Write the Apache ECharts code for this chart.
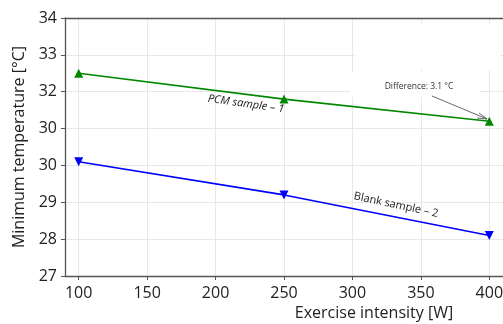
<!DOCTYPE html>
<html><head><meta charset="utf-8">
<script src="https://cdn.jsdelivr.net/npm/echarts@6/dist/echarts.min.js"></script>
<style>html,body{margin:0;padding:0;background:#fff}#c{width:503px;height:324px}</style>
</head><body><div id="c"></div>
<script>
const xValues = [100, 250, 400];
const pcmSample = [32.5, 31.8, 31.2];
const blankSample = [30.1, 29.2, 28.1];
const xTicks = [100, 150, 200, 250, 300, 350, 400];
const yTickLabels = ['27', '28', '29', '30', '30', '32', '33', '34'];
const FONT = 'Open Sans';

const chart = echarts.init(document.getElementById('c'), null, {renderer: 'canvas'});
const gridC = '#e8e8e8', axisC = '#555';
chart.setOption({
  animation: false,
  grid: {left: 65, right: 0, top: 18, bottom: 48, containLabel: false, outerBoundsMode: 'none'},
  xAxis: [{
    type: 'value', min: 90, max: 410,
    name: 'Exercise intensity [W]', nameLocation: 'middle', nameGap: 28,
    nameTextStyle: {fontFamily: FONT, fontSize: 16, color: '#222', padding: [0, 0, 0, 180]},
    axisLine: {show: true, onZero: false, lineStyle: {color: axisC, width: 1.3}},
    axisTick: {show: true, length: 4, customValues: xTicks, lineStyle: {color: axisC}},
    axisLabel: {customValues: xTicks, fontFamily: FONT, fontSize: 16, color: '#222', margin: 9},
    splitLine: {show: true, lineStyle: {color: gridC}}
  }, {
    type: 'value', position: 'top', min: 90, max: 410,
    axisLine: {show: true, onZero: false, lineStyle: {color: axisC, width: 1.3}},
    axisTick: {show: false}, axisLabel: {show: false}, splitLine: {show: false}
  }],
  yAxis: {
    type: 'value', min: 27, max: 34, interval: 1,
    name: 'Minimum temperature [°C]', nameLocation: 'middle', nameGap: 30,
    nameTextStyle: {fontFamily: FONT, fontSize: 16, color: '#222'},
    axisLine: {show: true, onZero: false, lineStyle: {color: axisC, width: 1.3}},
    axisTick: {show: true, length: 4, lineStyle: {color: axisC}},
    axisLabel: {fontFamily: FONT, fontSize: 16, color: '#222', margin: 8,
      formatter: v => yTickLabels[Math.round(v - 27)]},
    splitLine: {show: true, lineStyle: {color: gridC}}
  },
  series: [{
    type: 'line', data: xValues.map((x, i) => [x, pcmSample[i]]),
    color: '#008800', lineStyle: {width: 1.6}, symbol: 'triangle', symbolSize: 9, z: 3
  }, {
    type: 'line', data: xValues.map((x, i) => [x, blankSample[i]]),
    color: '#0000ff', lineStyle: {width: 1.6}, symbol: 'triangle', symbolRotate: 180, symbolSize: 9, z: 3
  }],
  graphic: [
    {type: 'rect', z: 1, shape: {x: 355, y: 24, width: 145, height: 46}, style: {fill: '#fff'}},
    {type: 'rect', z: 1, shape: {x: 350, y: 72, width: 130, height: 25}, style: {fill: '#fff'}},
    {type: 'text', z: 5, x: 246, y: 104, rotation: -8 * Math.PI / 180,
      style: {text: 'PCM sample – 1', font: 'italic 11px "Open Sans"', fill: '#222', align: 'center', verticalAlign: 'middle'}},
    {type: 'text', z: 5, x: 396, y: 205, rotation: -12 * Math.PI / 180,
      style: {text: 'Blank sample – 2', font: '11px "Open Sans"', fill: '#222', align: 'center', verticalAlign: 'middle'}},
    {type: 'text', z: 5, x: 419, y: 87,
      style: {text: 'Difference: 3.1 °C', font: '8.5px "Open Sans"', fill: '#333', align: 'center', verticalAlign: 'middle'}},
    {type: 'line', z: 5, shape: {x1: 432, y1: 96, x2: 487, y2: 119}, style: {stroke: '#444', lineWidth: 0.8}},
    {type: 'polyline', z: 5, shape: {points: [[479, 113], [487, 119], [477, 118]]}, style: {stroke: '#444', lineWidth: 0.8, fill: null}}
  ]
});
</script></body></html>
